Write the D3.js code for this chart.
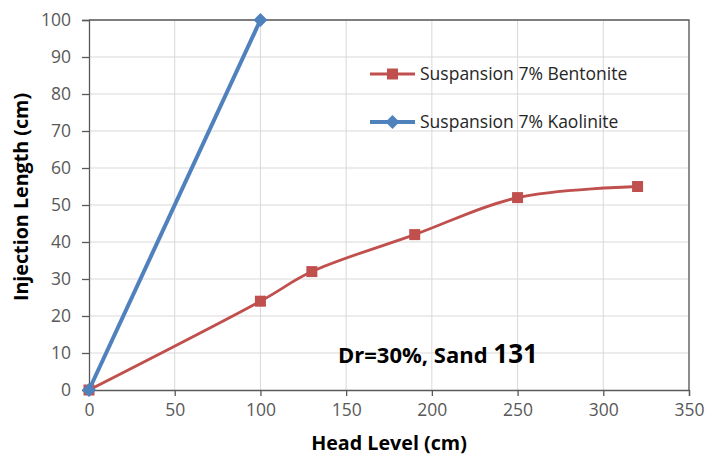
<!DOCTYPE html>
<html>
<head>
<meta charset="utf-8">
<script src="https://cdn.jsdelivr.net/npm/d3@7"></script>
<style>
  body { margin: 0; background: #fff; }
  text { font-family: "Open Sans", Lato, "Liberation Sans", sans-serif; }
</style>
</head>
<body>
<div id="chart"></div>
<script>
// data
const bentoniteX = [0, 100, 130, 190, 250, 320];
const bentoniteY = [0, 24, 32, 42, 52, 55];
const kaoliniteX = [0, 100];
const kaoliniteY = [0, 100];
const xTicks = [0, 50, 100, 150, 200, 250, 300, 350];
const yTicks = [0, 10, 20, 30, 40, 50, 60, 70, 80, 90, 100];
const seriesNames = ["Suspansion 7% Bentonite", "Suspansion 7% Kaolinite"];

const W = 708, H = 457;
const margin = {top: 20, right: 19, bottom: 67, left: 89};
const width = W - margin.left - margin.right;
const height = H - margin.top - margin.bottom;

const red = "#C0504D", blue = "#4F81BD";

const svg = d3.select("#chart").append("svg")
    .attr("width", W)
    .attr("height", H);

const chart = svg.append("g")
    .attr("transform", `translate(${margin.left},${margin.top})`);

const x = d3.scaleLinear().domain([0, 350]).range([0, width]);
const y = d3.scaleLinear().domain([0, 100]).range([height, 0]);

// gridlines
chart.selectAll(".vgrid")
    .data(xTicks.slice(1))
    .join("line")
    .attr("class", "vgrid")
    .attr("x1", d => x(d)).attr("x2", d => x(d))
    .attr("y1", 0).attr("y2", height)
    .attr("stroke", "#d9d9d9").attr("stroke-width", 1);
chart.selectAll(".hgrid")
    .data(yTicks.slice(1))
    .join("line")
    .attr("class", "hgrid")
    .attr("x1", 0).attr("x2", width)
    .attr("y1", d => y(d)).attr("y2", d => y(d))
    .attr("stroke", "#d9d9d9").attr("stroke-width", 1);

// plot border top/right
chart.append("path")
    .attr("d", `M0,0H${width}V${height}`)
    .attr("fill", "none")
    .attr("stroke", "#595959").attr("stroke-width", 1.3);

// axes
const xAxis = chart.append("g")
    .attr("transform", `translate(0,${height})`)
    .call(d3.axisBottom(x).tickValues(xTicks).tickSize(6).tickPadding(8));
const yAxis = chart.append("g")
    .call(d3.axisLeft(y).tickValues(yTicks).tickSize(7).tickPadding(11));

[xAxis, yAxis].forEach(a => {
    a.select(".domain").attr("stroke", "#595959").attr("stroke-width", 1.3);
    a.selectAll(".tick line").attr("stroke", "#595959").attr("stroke-width", 1.3);
    a.selectAll(".tick text")
        .attr("fill", "#595959")
        .style("font-size", "17.5px");
});

// series
const bData = bentoniteX.map((d, i) => ({x: d, y: bentoniteY[i]}));
const kData = kaoliniteX.map((d, i) => ({x: d, y: kaoliniteY[i]}));

const smoothLine = d3.line()
    .x(d => x(d.x)).y(d => y(d.y))
    .curve(d3.curveCatmullRom.alpha(0.5));
const straightLine = d3.line()
    .x(d => x(d.x)).y(d => y(d.y));

chart.append("path")
    .datum(bData)
    .attr("d", smoothLine)
    .attr("fill", "none")
    .attr("stroke", red).attr("stroke-width", 2.8);

chart.selectAll(".sq")
    .data(bData)
    .join("rect")
    .attr("class", "sq")
    .attr("x", d => x(d.x) - 5.5).attr("y", d => y(d.y) - 5.5)
    .attr("width", 11).attr("height", 11)
    .attr("fill", red);

chart.append("path")
    .datum(kData)
    .attr("d", straightLine)
    .attr("fill", "none")
    .attr("stroke", blue).attr("stroke-width", 4);

const diamond = "M0,-7L7,0L0,7L-7,0Z";
chart.selectAll(".dm")
    .data(kData)
    .join("path")
    .attr("class", "dm")
    .attr("transform", d => `translate(${x(d.x)},${y(d.y)})`)
    .attr("d", diamond)
    .attr("fill", blue);

// axis titles
svg.append("text")
    .attr("transform", `translate(28,197) rotate(-90)`)
    .attr("text-anchor", "middle")
    .style("font-size", "19.7px").style("font-weight", "bold")
    .attr("fill", "#000")
    .text("Injection Length (cm)");

svg.append("text")
    .attr("x", 389).attr("y", 450)
    .attr("text-anchor", "middle")
    .style("font-size", "19.7px").style("font-weight", "bold")
    .attr("fill", "#000")
    .text("Head Level (cm)");

// legend
const legend = svg.append("g");
const legendY = [74, 122];
const legendColor = [red, blue];
seriesNames.forEach((name, i) => {
    const g = legend.append("g").attr("transform", `translate(370,${legendY[i]})`);
    g.append("line")
        .attr("x1", 0).attr("x2", 45)
        .attr("stroke", legendColor[i]).attr("stroke-width", i ? 4 : 2.8);
    if (i === 0) {
        g.append("rect").attr("x", 17).attr("y", -5.5)
            .attr("width", 11).attr("height", 11).attr("fill", red);
    } else {
        g.append("path").attr("transform", "translate(22.5,0)")
            .attr("d", diamond).attr("fill", blue);
    }
    g.append("text")
        .attr("x", 50).attr("y", 5.5)
        .style("font-size", "17.5px")
        .attr("fill", "#262626")
        .text(name);
});

// annotation
const note = svg.append("text")
    .attr("x", 338).attr("y", 363)
    .style("font-weight", "bold")
    .attr("fill", "#000");
note.append("tspan").style("font-size", "22px").text("Dr=30%, Sand ");
note.append("tspan").style("font-size", "26px").text("131");
</script>
</body>
</html>
